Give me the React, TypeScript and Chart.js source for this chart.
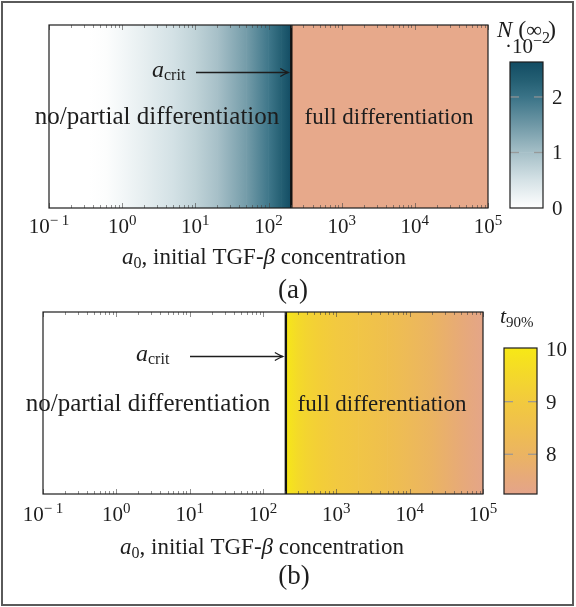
import React, { useEffect, useRef } from "react";
import { Chart, registerables } from "chart.js";

Chart.register(...registerables);

// ---------------- data ----------------
const A_CRIT = 205;
const A_MIN = 0.1;
const A_MAX = 1e5;
const DECADE_EXPONENTS = [-1, 0, 1, 2, 3, 4, 5];
const DECADE_LABELS = ["\u2212 1", "0", "1", "2", "3", "4", "5"];
const MINOR_MULTIPLIERS = [2, 3, 4, 5, 6, 7, 8, 9];

// panel (a): N(inf) in units of 1e-2, for a0 below a_crit
const A_SAMPLES_N = [0.1, 0.35, 0.6, 1, 2, 5, 10, 20, 50, 100, 150, 205];
const N_INF_VALUES = [0, 0, 0.04, 0.14, 0.3, 0.52, 0.72, 0.98, 1.45, 1.95, 2.3, 2.63];
const FULL_DIFF_RANGE = [205, 1e5];
const FULL_DIFF_COLOR = "#e7a98b";

// panel (b): t90% for a0 above a_crit
const A_SAMPLES_T = [205, 250, 300, 400, 600, 1000, 2000, 5000, 10000, 20000, 50000, 100000];
const T90_VALUES = [10.0, 9.75, 9.55, 9.35, 9.15, 8.95, 8.75, 8.5, 8.25, 8.0, 7.6, 7.28];

// colour maps / colour bars
const N_CMAP_STOPS = [0, 0.5, 1.0, 1.5, 2.0, 2.3, 2.63];
const N_CMAP_COLORS = ["#ffffff", "#d5e2e6", "#a5bfc7", "#6f98a6", "#3a7387", "#245f73", "#124c63"];
const N_CBAR_TICKS = [0, 1, 2];
const N_CBAR_MIN = 0;
const N_CBAR_MAX = 2.63;

const T_CMAP_STOPS = [7.245, 7.6, 8.0, 8.5, 9.0, 9.5, 10.02];
const T_CMAP_COLORS = ["#e4a48a", "#e7aa78", "#ebb462", "#efbf4e", "#f2ca3e", "#f4d82b", "#f7e816"];
const T_CBAR_TICKS = [8, 9, 10];
const T_CBAR_MIN = 7.245;
const T_CBAR_MAX = 10.02;

// ---------------- helpers ----------------
const SERIF = '"Liberation Serif", "Times New Roman", serif';
const INK = "#1d1d1d";
const W = 576;
const H = 607;

type RGB = [number, number, number];
function hexToRgb(h: string): RGB {
  const s = h.replace("#", "");
  return [parseInt(s.slice(0, 2), 16), parseInt(s.slice(2, 4), 16), parseInt(s.slice(4, 6), 16)];
}
function cmap(stops: number[], colors: string[], v: number): string {
  const cs = colors.map(hexToRgb);
  let c: RGB = cs[cs.length - 1];
  if (v <= stops[0]) c = cs[0];
  else {
    for (let i = 0; i < stops.length - 1; i++) {
      if (v <= stops[i + 1]) {
        const t = (v - stops[i]) / (stops[i + 1] - stops[i]);
        c = [0, 1, 2].map((k) => cs[i][k] + (cs[i + 1][k] - cs[i][k]) * t) as RGB;
        break;
      }
    }
  }
  return `rgb(${Math.round(c[0])},${Math.round(c[1])},${Math.round(c[2])})`;
}

type Run = { text: string; font: string; dy?: number };
function drawRuns(ctx: CanvasRenderingContext2D, runs: Run[], x: number, y: number, align: "left" | "center") {
  ctx.save();
  ctx.textBaseline = "alphabetic";
  ctx.textAlign = "left";
  ctx.fillStyle = INK;
  let total = 0;
  for (const r of runs) {
    ctx.font = r.font;
    total += ctx.measureText(r.text).width;
  }
  let cx = align === "center" ? x - total / 2 : x;
  for (const r of runs) {
    ctx.font = r.font;
    ctx.fillText(r.text, cx, y + (r.dy || 0));
    cx += ctx.measureText(r.text).width;
  }
  ctx.restore();
}
const f = (px: number, italic = false) => `${italic ? "italic " : ""}${px}px ${SERIF}`;

function line(ctx: CanvasRenderingContext2D, x0: number, y0: number, x1: number, y1: number) {
  ctx.beginPath();
  ctx.moveTo(x0, y0);
  ctx.lineTo(x1, y1);
  ctx.stroke();
}

type Cell = { x0: number; x1: number; c0: string; c1: string };

type HeatPanel = {
  padding: { left: number; right: number; top: number; bottom: number };
  cells: Cell[];
  tickBaseline: number;
  axisX: number;
  axisBaseline: number;
  panelLabel: string;
  panelX: number;
  panelBaseline: number;
  critX: number;
  critBaseline: number;
  arrowX0: number;
  arrowY: number;
  leftTextX: number;
  rightTextX: number;
  regionBaseline: number;
  leftFont: number;
  rightFont: number;
};

function heatConfig(p: HeatPanel): any {
  const datasets = p.cells.map((c) => ({
    data: [[c.x0, c.x1]],
    backgroundColor: (ctx: any) => {
      const xs = ctx.chart.scales && ctx.chart.scales.x;
      if (!xs) return c.c0;
      const p0 = xs.getPixelForValue(c.x0);
      const p1 = xs.getPixelForValue(c.x1);
      if (!isFinite(p0) || !isFinite(p1) || Math.abs(p1 - p0) < 0.01) return c.c0;
      const g = ctx.chart.ctx.createLinearGradient(p0, 0, p1, 0);
      g.addColorStop(0, c.c0);
      g.addColorStop(1, c.c1);
      return g;
    },
    borderWidth: 0,
    grouped: false,
    barPercentage: 1,
    categoryPercentage: 1,
  }));

  const overlay = {
    id: "heatOverlay",
    afterDraw(chart: any) {
      const ctx: CanvasRenderingContext2D = chart.ctx;
      const ca = chart.chartArea;
      const xs = chart.scales.x;
      ctx.save();
      // critical line
      const xc = xs.getPixelForValue(A_CRIT);
      ctx.strokeStyle = "#121212";
      ctx.lineWidth = 2.4;
      line(ctx, xc, ca.top, xc, ca.bottom);

      // minor/major ticks (inward, top and bottom)
      ctx.strokeStyle = "rgba(70,70,70,0.6)";
      ctx.lineWidth = 1;
      for (const e of DECADE_EXPONENTS) {
        for (const m of [1, ...MINOR_MULTIPLIERS]) {
          const v = m * Math.pow(10, e);
          if (v > A_MAX * 1.0001) continue;
          const px = Math.round(xs.getPixelForValue(v)) + 0.5;
          const len = m === 1 ? 5 : 3;
          line(ctx, px, ca.bottom, px, ca.bottom - len);
          line(ctx, px, ca.top, px, ca.top + len);
        }
      }

      // frame
      ctx.strokeStyle = INK;
      ctx.lineWidth = 1.2;
      ctx.strokeRect(ca.left, ca.top, ca.right - ca.left, ca.bottom - ca.top);

      // tick labels
      DECADE_EXPONENTS.forEach((e, i) => {
        const px = xs.getPixelForValue(Math.pow(10, e));
        drawRuns(
          ctx,
          [
            { text: "10", font: f(21) },
            { text: DECADE_LABELS[i], font: f(15), dy: -8 },
          ],
          px,
          p.tickBaseline,
          "center"
        );
      });

      // axis label
      drawRuns(
        ctx,
        [
          { text: "a", font: f(23, true) },
          { text: "0", font: f(16), dy: 4 },
          { text: ", initial TGF-", font: f(23) },
          { text: "\u03b2", font: f(23, true) },
          { text: " concentration", font: f(23) },
        ],
        p.axisX,
        p.axisBaseline,
        "center"
      );

      // panel label
      drawRuns(ctx, [{ text: p.panelLabel, font: f(27) }], p.panelX, p.panelBaseline, "center");

      // a_crit annotation with arrow
      drawRuns(
        ctx,
        [
          { text: "a", font: f(24, true) },
          { text: "crit", font: f(16), dy: 3 },
        ],
        p.critX,
        p.critBaseline,
        "left"
      );
      const tip = xc - 3;
      ctx.strokeStyle = INK;
      ctx.lineWidth = 1.3;
      line(ctx, p.arrowX0, p.arrowY, tip, p.arrowY);
      ctx.beginPath();
      ctx.moveTo(tip - 8, p.arrowY - 4);
      ctx.quadraticCurveTo(tip - 3, p.arrowY - 1, tip, p.arrowY);
      ctx.quadraticCurveTo(tip - 3, p.arrowY + 1, tip - 8, p.arrowY + 4);
      ctx.stroke();

      // region labels
      drawRuns(ctx, [{ text: "no/partial differentiation", font: f(p.leftFont) }], p.leftTextX, p.regionBaseline, "center");
      drawRuns(ctx, [{ text: "full differentiation", font: f(p.rightFont) }], p.rightTextX, p.regionBaseline, "center");
      ctx.restore();
    },
  };

  return {
    type: "bar",
    data: { labels: [""], datasets },
    options: {
      indexAxis: "y",
      animation: false,
      responsive: false,
      events: [],
      layout: { padding: p.padding },
      plugins: { legend: { display: false }, tooltip: { enabled: false } },
      scales: {
        x: { type: "logarithmic", min: A_MIN, max: A_MAX, display: false },
        y: { type: "category", display: false },
      },
    },
    plugins: [overlay],
  };
}

type CbarPanel = {
  padding: { left: number; right: number; top: number; bottom: number };
  stops: number[];
  colors: string[];
  min: number;
  max: number;
  ticks: number[];
  labelX: number;
  drawTitle: (ctx: CanvasRenderingContext2D) => void;
};

function cbarConfig(c: CbarPanel): any {
  const datasets = c.stops.slice(0, -1).map((s, i) => {
    const v0 = s;
    const v1 = c.stops[i + 1];
    const c0 = c.colors[i];
    const c1 = c.colors[i + 1];
    return {
      data: [[v0, v1]],
      backgroundColor: (ctx: any) => {
        const ys = ctx.chart.scales && ctx.chart.scales.y;
        if (!ys) return c0;
        const p0 = ys.getPixelForValue(v0);
        const p1 = ys.getPixelForValue(v1);
        if (!isFinite(p0) || !isFinite(p1) || Math.abs(p1 - p0) < 0.01) return c0;
        const g = ctx.chart.ctx.createLinearGradient(0, p0, 0, p1);
        g.addColorStop(0, c0);
        g.addColorStop(1, c1);
        return g;
      },
      borderWidth: 0,
      grouped: false,
      barPercentage: 1,
      categoryPercentage: 1,
    };
  });

  const overlay = {
    id: "cbarOverlay",
    afterDraw(chart: any) {
      const ctx: CanvasRenderingContext2D = chart.ctx;
      const ca = chart.chartArea;
      const ys = chart.scales.y;
      ctx.save();
      ctx.strokeStyle = "rgba(150,150,150,0.9)";
      ctx.lineWidth = 1.3;
      for (const t of c.ticks) {
        const py = ys.getPixelForValue(t);
        if (Math.abs(py - ca.top) > 2 && Math.abs(py - ca.bottom) > 2) {
          line(ctx, ca.left, py, ca.left + 9, py);
          line(ctx, ca.right - 9, py, ca.right, py);
        }
        drawRuns(ctx, [{ text: String(t), font: f(21) }], c.labelX, py + 7, "left");
      }
      ctx.strokeStyle = INK;
      ctx.lineWidth = 1.2;
      ctx.strokeRect(ca.left, ca.top, ca.right - ca.left, ca.bottom - ca.top);
      c.drawTitle(ctx);
      ctx.restore();
    },
  };

  return {
    type: "bar",
    data: { labels: [""], datasets },
    options: {
      animation: false,
      responsive: false,
      events: [],
      layout: { padding: c.padding },
      plugins: { legend: { display: false }, tooltip: { enabled: false } },
      scales: {
        x: { type: "category", display: false },
        y: { type: "linear", min: c.min, max: c.max, display: false },
      },
    },
    plugins: [overlay],
  };
}

// ---------------- panel definitions ----------------
function cellsFrom(xs: number[], vs: number[], stops: number[], colors: string[]): Cell[] {
  const out: Cell[] = [];
  for (let i = 0; i < xs.length - 1; i++) {
    out.push({ x0: xs[i], x1: xs[i + 1], c0: cmap(stops, colors, vs[i]), c1: cmap(stops, colors, vs[i + 1]) });
  }
  return out;
}

const panelA: HeatPanel = {
  padding: { left: 49, right: W - 488, top: 25, bottom: H - 208 },
  cells: [
    ...cellsFrom(A_SAMPLES_N, N_INF_VALUES, N_CMAP_STOPS, N_CMAP_COLORS),
    { x0: FULL_DIFF_RANGE[0], x1: FULL_DIFF_RANGE[1], c0: FULL_DIFF_COLOR, c1: FULL_DIFF_COLOR },
  ],
  tickBaseline: 233,
  axisX: 264,
  axisBaseline: 264,
  panelLabel: "(a)",
  panelX: 293,
  panelBaseline: 298,
  critX: 152,
  critBaseline: 77,
  arrowX0: 196,
  arrowY: 72.5,
  leftTextX: 157,
  rightTextX: 389,
  regionBaseline: 124,
  leftFont: 25,
  rightFont: 23,
};

const panelB: HeatPanel = {
  padding: { left: 43, right: W - 483, top: 312, bottom: H - 494 },
  cells: cellsFrom(A_SAMPLES_T, T90_VALUES, T_CMAP_STOPS, T_CMAP_COLORS),
  tickBaseline: 521,
  axisX: 262,
  axisBaseline: 554,
  panelLabel: "(b)",
  panelX: 294,
  panelBaseline: 584,
  critX: 136,
  critBaseline: 361,
  arrowX0: 190,
  arrowY: 356.5,
  leftTextX: 148,
  rightTextX: 382,
  regionBaseline: 411,
  leftFont: 25,
  rightFont: 23,
};

const cbarA: CbarPanel = {
  padding: { left: 510, right: W - 543, top: 62, bottom: H - 208 },
  stops: N_CMAP_STOPS,
  colors: N_CMAP_COLORS,
  min: N_CBAR_MIN,
  max: N_CBAR_MAX,
  ticks: N_CBAR_TICKS,
  labelX: 552,
  drawTitle: (ctx) => {
    drawRuns(
      ctx,
      [
        { text: "N", font: f(23, true) },
        { text: " (", font: f(24) },
        { text: "\u221e", font: f(22) },
        { text: " )", font: f(24) },
      ],
      497,
      37,
      "left"
    );
    drawRuns(
      ctx,
      [
        { text: "\u00b710", font: f(21) },
        { text: "\u2212", font: f(16), dy: -7 },
        { text: "2", font: f(16), dy: -10 },
      ],
      505,
      53,
      "left"
    );
  },
};

const cbarB: CbarPanel = {
  padding: { left: 504, right: W - 537, top: 348, bottom: H - 494 },
  stops: T_CMAP_STOPS,
  colors: T_CMAP_COLORS,
  min: T_CBAR_MIN,
  max: T_CBAR_MAX,
  ticks: T_CBAR_TICKS,
  labelX: 546,
  drawTitle: (ctx) => {
    drawRuns(
      ctx,
      [
        { text: "t", font: f(22, true) },
        { text: "90%", font: f(15), dy: 4 },
      ],
      500,
      323,
      "left"
    );
  },
};

// ---------------- components ----------------
function ChartCanvas({ make }: { make: () => any }) {
  const ref = useRef<HTMLCanvasElement>(null);
  useEffect(() => {
    if (!ref.current) return;
    const chart = new Chart(ref.current, make());
    return () => chart.destroy();
  }, []);
  return (
    <canvas
      ref={ref}
      width={W}
      height={H}
      style={{ position: "absolute", left: 0, top: 0, width: W, height: H }}
    />
  );
}

export default function App() {
  return (
    <div style={{ position: "absolute", left: 0, top: 0, width: W, height: H, background: "#fff" }}>
      <div
        style={{
          position: "absolute",
          left: 1,
          top: 1,
          width: 573,
          height: 605,
          boxSizing: "border-box",
          border: "2px solid #5a5a5a",
        }}
      />
      <ChartCanvas make={() => heatConfig(panelA)} />
      <ChartCanvas make={() => cbarConfig(cbarA)} />
      <ChartCanvas make={() => heatConfig(panelB)} />
      <ChartCanvas make={() => cbarConfig(cbarB)} />
    </div>
  );
}
